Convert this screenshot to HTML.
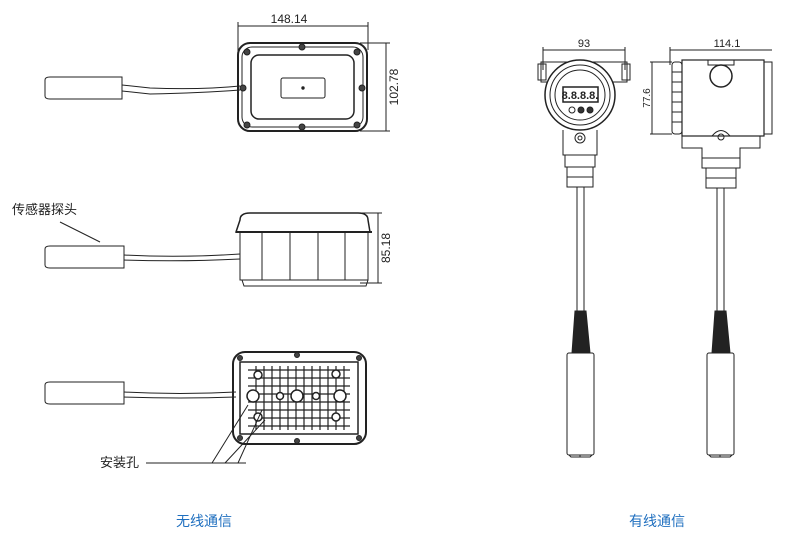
<!DOCTYPE html>
<html><head><meta charset="utf-8"><style>
html,body{margin:0;padding:0;background:#fff;width:800px;height:552px;overflow:hidden}
svg{display:block}
text{font-family:"Liberation Sans","Noto Sans CJK SC",sans-serif}
</style></head><body>
<svg width="800" height="552" viewBox="0 0 800 552" fill="none" stroke="#222" stroke-width="1">
<!-- TOP VIEW -->
<line x1="238" y1="26" x2="368" y2="26"/><line x1="238" y1="22" x2="238" y2="60"/><line x1="368" y1="22" x2="368" y2="50"/>
<text x="289" y="23" font-size="12" fill="#222" stroke="none" text-anchor="middle">148.14</text>
<line x1="386" y1="43" x2="386" y2="131"/><line x1="360" y1="43" x2="390" y2="43"/><line x1="360" y1="131" x2="390" y2="131"/>
<text transform="translate(398,87) rotate(-90)" font-size="12" fill="#222" stroke="none" text-anchor="middle">102.78</text>
<rect x="238" y="43" width="129" height="88" rx="12" stroke-width="2"/>
<rect x="242" y="47" width="121" height="80" rx="10"/>
<rect x="251" y="55" width="103" height="64" rx="8" stroke-width="1.5"/>
<rect x="281" y="78" width="44" height="20" rx="2"/>
<circle cx="303" cy="88" r="1.2" fill="#222"/>
<g fill="#444"><circle cx="247" cy="52" r="3"/><circle cx="302" cy="47" r="3"/><circle cx="357" cy="52" r="3"/><circle cx="243" cy="88" r="3"/><circle cx="362" cy="88" r="3"/><circle cx="247" cy="125" r="3"/><circle cx="302" cy="127" r="3"/><circle cx="357" cy="125" r="3"/></g>
<path d="M45 80 Q45 77 50 77 L122 77 L122 99 L50 99 Q45 99 45 96 Z"/>
<path d="M122 85 L150 88 Q200 90 240 86 M122 91 L150 94 Q200 93 240 90"/>
<!-- SIDE VIEW -->
<line x1="378" y1="213" x2="378" y2="283"/><line x1="360" y1="213" x2="382" y2="213"/><line x1="360" y1="283" x2="382" y2="283"/>
<text transform="translate(390,248) rotate(-90)" font-size="12" fill="#222" stroke="none" text-anchor="middle">85.18</text>
<path d="M240 220 Q240 213 250 213 L358 213 Q368 213 368 220 L370 232 L236 232 Z" stroke-width="1.5"/>
<rect x="240" y="232" width="128" height="48"/>
<line x1="236" y1="232" x2="372" y2="232" stroke-width="2"/>
<g><line x1="262" y1="232" x2="262" y2="280"/><line x1="290" y1="232" x2="290" y2="280"/><line x1="318" y1="232" x2="318" y2="280"/><line x1="345" y1="232" x2="345" y2="280"/></g>
<path d="M242 280 L244 286 L366 286 L368 280"/>
<path d="M45 249 Q45 246 50 246 L124 246 L124 268 L50 268 Q45 268 45 265 Z"/>
<path d="M124 255 Q180 258 240 254 M124 260 Q180 262 240 259"/>
<text x="12" y="214" font-size="13" fill="#222" stroke="none">传感器探头</text>
<line x1="60" y1="222" x2="100" y2="242"/>
<!-- BOTTOM VIEW -->
<rect x="233" y="352" width="133" height="92" rx="12" stroke-width="2"/>
<rect x="240" y="362" width="118" height="72" stroke-width="1.5"/>
<g stroke-width="1.2">
<line x1="248" y1="370" x2="350" y2="370"/><line x1="248" y1="378" x2="350" y2="378"/><line x1="248" y1="386" x2="350" y2="386"/><line x1="248" y1="394" x2="350" y2="394"/><line x1="248" y1="402" x2="350" y2="402"/><line x1="248" y1="410" x2="350" y2="410"/><line x1="248" y1="418" x2="350" y2="418"/><line x1="248" y1="426" x2="350" y2="426"/>
<line x1="256" y1="366" x2="256" y2="430"/><line x1="264" y1="366" x2="264" y2="430"/><line x1="272" y1="366" x2="272" y2="430"/><line x1="280" y1="366" x2="280" y2="430"/><line x1="288" y1="366" x2="288" y2="430"/><line x1="296" y1="366" x2="296" y2="430"/><line x1="304" y1="366" x2="304" y2="430"/><line x1="312" y1="366" x2="312" y2="430"/><line x1="320" y1="366" x2="320" y2="430"/><line x1="328" y1="366" x2="328" y2="430"/><line x1="336" y1="366" x2="336" y2="430"/><line x1="344" y1="366" x2="344" y2="430"/></g>
<g fill="#fff" stroke-width="1.5"><circle cx="258" cy="375" r="4"/><circle cx="336" cy="374" r="4"/><circle cx="253" cy="396" r="6"/><circle cx="280" cy="396" r="3.5"/><circle cx="297" cy="396" r="6"/><circle cx="316" cy="396" r="3.5"/><circle cx="340" cy="396" r="6"/><circle cx="258" cy="417" r="4"/><circle cx="336" cy="417" r="4"/></g>
<g fill="#444"><circle cx="240" cy="358" r="2.5"/><circle cx="359" cy="358" r="2.5"/><circle cx="240" cy="438" r="2.5"/><circle cx="359" cy="438" r="2.5"/><circle cx="297" cy="355" r="2.5"/><circle cx="297" cy="441" r="2.5"/></g>
<path d="M45 385 Q45 382 50 382 L124 382 L124 404 L50 404 Q45 404 45 401 Z"/>
<path d="M124 392 Q180 395 236 392 M124 397 Q180 399 236 397"/>
<text x="100" y="467" font-size="13" fill="#222" stroke="none">安装孔</text>
<path d="M146 463 L246 463 M212 463 L248 405 M225 463 L265 420 M238 463 L262 410"/>
<!-- RIGHT DEVICE 1 -->
<line x1="543" y1="50" x2="625" y2="50"/><line x1="543" y1="47" x2="543" y2="70"/><line x1="625" y1="47" x2="625" y2="70"/>
<text x="584" y="47" font-size="11" fill="#222" stroke="none" text-anchor="middle">93</text>
<rect x="541" y="62" width="86" height="20"/><rect x="538" y="64" width="8" height="16"/><rect x="622" y="64" width="8" height="16"/>
<circle cx="580" cy="95" r="35" fill="#fff" stroke-width="1.5"/>
<circle cx="580" cy="95" r="30"/>
<circle cx="580" cy="95" r="25"/>
<rect x="563" y="87" width="35" height="15" stroke-width="1.5"/>
<text x="580" y="99" font-size="11" font-weight="bold" fill="#222" stroke="none" text-anchor="middle">8.8.8.8.</text>
<circle cx="572" cy="110" r="3"/><circle cx="581" cy="110" r="3" fill="#333"/><circle cx="590" cy="110" r="3" fill="#333"/>
<path d="M563 130 L563 155 L597 155 L597 130"/>
<circle cx="580" cy="138" r="5"/><circle cx="580" cy="138" r="2"/>
<rect x="565" y="155" width="30" height="12"/><rect x="567" y="167" width="26" height="20"/>
<line x1="567" y1="177" x2="593" y2="177"/>
<path d="M577 187 L577 311 M584 187 L584 311"/>
<path d="M575 311 L586 311 L590 353 L572 353 Z" fill="#222"/>
<rect x="567" y="353" width="27" height="102" rx="2"/>
<path d="M569 455 L571 457 L590 457 L592 455 M580 455 L580 457"/>
<!-- RIGHT DEVICE 2 -->
<line x1="670" y1="50" x2="772" y2="50"/><line x1="670" y1="47" x2="670" y2="65"/>
<text x="727" y="47" font-size="11" fill="#222" stroke="none" text-anchor="middle">114.1</text>
<line x1="652" y1="62" x2="652" y2="134"/><line x1="650" y1="62" x2="672" y2="62"/><line x1="650" y1="134" x2="672" y2="134"/>
<text transform="translate(650,98) rotate(-90)" font-size="10" fill="#222" stroke="none" text-anchor="middle">77.6</text>
<rect x="672" y="62" width="10" height="72" rx="3"/>
<rect x="682" y="60" width="82" height="76" stroke-width="1.2"/>
<rect x="764" y="62" width="8" height="72"/>
<g><line x1="672" y1="72" x2="682" y2="72"/><line x1="672" y1="82" x2="682" y2="82"/><line x1="672" y1="92" x2="682" y2="92"/><line x1="672" y1="102" x2="682" y2="102"/><line x1="672" y1="112" x2="682" y2="112"/><line x1="672" y1="122" x2="682" y2="122"/></g>
<rect x="708" y="60" width="26" height="5"/>
<circle cx="721" cy="76" r="11" stroke-width="1.5"/>
<path d="M682 136 L682 148 L702 148 L702 158 L740 158 L740 148 L760 148 L760 136"/>
<path d="M712 136 Q721 125 730 136"/><circle cx="721" cy="137" r="3"/>
<rect x="702" y="158" width="38" height="10"/><rect x="706" y="168" width="30" height="20"/>
<line x1="706" y1="178" x2="736" y2="178"/>
<path d="M717 188 L717 311 M724 188 L724 311"/>
<path d="M715 311 L726 311 L730 353 L712 353 Z" fill="#222"/>
<rect x="707" y="353" width="27" height="102" rx="2"/>
<path d="M709 455 L711 457 L730 457 L732 455 M720 455 L720 457"/>
<!-- Captions -->
<text x="204" y="526" font-size="14" fill="#1f6fbf" stroke="none" text-anchor="middle">无线通信</text>
<text x="657" y="526" font-size="14" fill="#1f6fbf" stroke="none" text-anchor="middle">有线通信</text>
</svg>
</body></html>
